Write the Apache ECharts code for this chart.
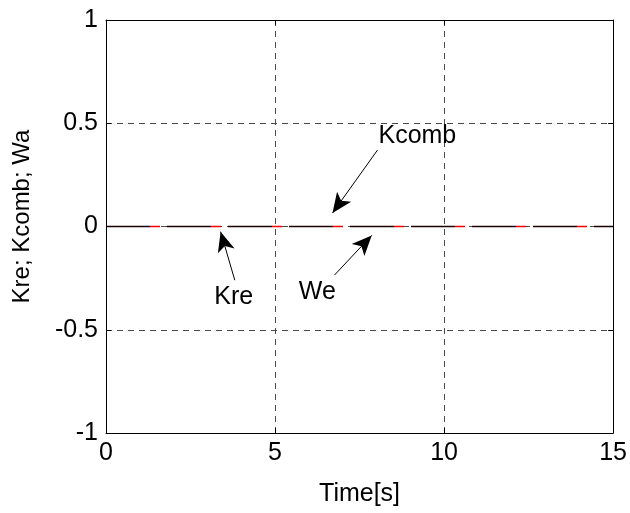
<!DOCTYPE html>
<html>
<head>
<meta charset="utf-8">
<script src="https://cdn.jsdelivr.net/npm/echarts@6/dist/echarts.min.js"></script>
<style>html,body{margin:0;padding:0;background:#fff}#c{width:630px;height:513px}</style>
</head>
<body>
<div id="c"></div>
<script>
// Data
var time = [0, 15];
var kre = [0, 0];
var kcomb = [0, 0];
var we = [0, 0];
var xTicks = [0, 5, 10, 15];
var yTicks = [-1, -0.5, 0, 0.5, 1];
// Annotations: label, text position, arrow tail, arrow tip (data coords)
var annLabels = ['Kcomb', 'Kre', 'We'];
var annText = [[9.21, 0.44], [3.78, -0.34], [6.25, -0.317]];
var annTail = [[8.03, 0.37], [3.81, -0.26], [6.76, -0.235]];
var annTip = [[6.70, 0.065], [3.39, -0.025], [7.86, -0.043]];

var FONT = 'Liberation Sans';
var FS = 25;
var chart = echarts.init(document.getElementById('c'));
function pairs(xs, ys) { return xs.map(function (x, i) { return [x, ys[i]]; }); }

var arrowLines = annLabels.map(function (l, i) {
  return [{ coord: annTail[i] }, { coord: annTip[i] }];
});
var textPoints = annLabels.map(function (l, i) {
  return { coord: annText[i], value: l };
});

var axisCommon = {
  axisLine: { show: true, onZero: false, lineStyle: { color: '#000', width: 1 } },
  axisTick: { show: true, inside: true, length: 5, lineStyle: { color: '#000' } }
};

chart.setOption({
  animation: false,
  backgroundColor: '#fff',
  grid: { left: 106, right: 16, top: 20, bottom: 80, containLabel: false },
  xAxis: [
    Object.assign({
      type: 'value', min: 0, max: 15, interval: 5, position: 'bottom',
      name: 'Time[s]', nameLocation: 'middle', nameGap: 49,
      nameTextStyle: { fontFamily: FONT, fontSize: FS, color: '#000' },
      axisLabel: { fontFamily: FONT, fontSize: FS, color: '#000', margin: 8 },
      splitLine: { show: true, lineStyle: { color: '#4a4a4a', type: [6, 5], width: 1 } }
    }, axisCommon),
    Object.assign({
      type: 'value', min: 0, max: 15, interval: 5, position: 'top',
      axisLabel: { show: false }, splitLine: { show: false }
    }, axisCommon)
  ],
  yAxis: [
    Object.assign({
      type: 'value', min: -1, max: 1, interval: 0.5, position: 'left',
      name: 'Kre; Kcomb; Wa', nameLocation: 'middle', nameGap: 72, nameRotate: 90,
      nameTextStyle: { fontFamily: FONT, fontSize: FS - 1, color: '#000', padding: [0, 0, 0, 20] },
      axisLabel: { fontFamily: FONT, fontSize: FS, color: '#000', margin: 8 },
      splitLine: { show: true, lineStyle: { color: '#4a4a4a', type: [6, 5], width: 1 } }
    }, axisCommon),
    Object.assign({
      type: 'value', min: -1, max: 1, interval: 0.5, position: 'right',
      axisLabel: { show: false }, splitLine: { show: false }
    }, axisCommon)
  ],
  series: [
    {
      name: 'Kre', type: 'line', data: pairs(time, kre), symbol: 'none',
      lineStyle: { color: '#1a0000', width: 1.5, type: [44, 17], dashOffset: 0 }, z: 3
    },
    {
      name: 'Kcomb', type: 'line', data: pairs(time, kcomb), symbol: 'none',
      lineStyle: { color: '#ff0000', width: 1.5, type: [10, 51], dashOffset: -44 }, z: 4,
      markLine: {
        silent: true, symbol: ['none', 'arrow'], symbolSize: [13, 20],
        label: { show: false },
        lineStyle: { color: '#000', width: 1, type: 'solid' },
        data: arrowLines
      },
      markPoint: {
        silent: true, symbol: 'circle', symbolSize: 0,
        label: { show: true, position: 'inside', formatter: '{c}', fontFamily: FONT, fontSize: FS, color: '#000' },
        data: textPoints
      }
    },
    {
      name: 'We', type: 'line', data: pairs(time, we), symbol: 'none',
      lineStyle: { color: '#330000', width: 1, type: [44, 17], dashOffset: 0, opacity: 0.6 }, z: 2
    }
  ]
});
</script>
</body>
</html>
